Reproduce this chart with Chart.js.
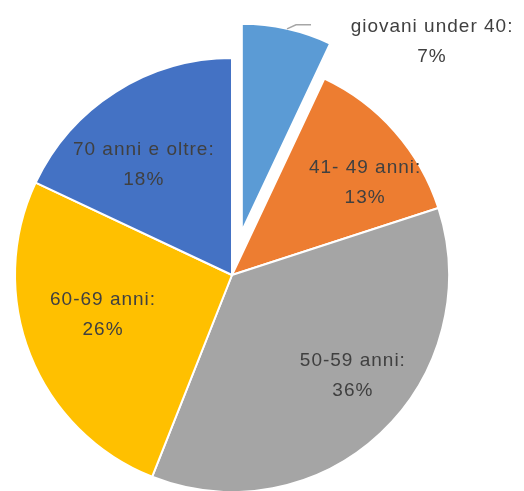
<!DOCTYPE html>
<html>
<head>
<meta charset="utf-8">
<script src="https://cdn.jsdelivr.net/npm/chart.js@4.4.1/dist/chart.umd.min.js"></script>
<style>
  html, body { margin: 0; padding: 0; background: #fff; }
  #wrap { width: 524px; height: 491px; }
</style>
</head>
<body>
<div id="wrap"><canvas id="pieChart" width="524" height="491"></canvas></div>
<script>
// values
const categories = ['giovani under 40', '41- 49 anni', '50-59 anni', '60-69 anni', '70 anni e oltre'];
const shares = [7, 13, 36, 26, 18];
const sliceColors = ['#5B9BD5', '#ED7D31', '#A5A5A5', '#FFC000', '#4472C4'];

// the slice pulled out of the pie
const exploded = { index: 0, distance: 45, scale: 0.955 };

// label spot per slice: fraction of radius, angle nudge in degrees
const labelSpots = [null, [0.746, 6.7], [0.726, -6.9], [0.622, 4.4], [0.65, -6.3]];

// moves the exploded slice outward (Chart.js offset also grows the radius)
const explodePlugin = {
  id: 'explode',
  afterDatasetsUpdate(chart) {
    const arc = chart.getDatasetMeta(0).data[exploded.index];
    if (!arc || arc._wrapped) return;
    const origDraw = arc.draw;
    arc.draw = function (ctx) {
      const mid = (this.startAngle + this.endAngle) / 2;
      const R = this.outerRadius;
      ctx.save();
      ctx.translate(Math.cos(mid) * exploded.distance, Math.sin(mid) * exploded.distance);
      this.outerRadius = R * exploded.scale;
      origDraw.call(this, ctx);
      this.outerRadius = R;
      ctx.restore();
    };
    arc._wrapped = true;
  }
};

const labelPlugin = {
  id: 'sliceLabels',
  afterDatasetsDraw(chart) {
    const ctx = chart.ctx;
    const arcs = chart.getDatasetMeta(0).data;
    ctx.save();
    ctx.font = '19px "Liberation Sans", Arial, sans-serif';
    ctx.fillStyle = '#404040';
    ctx.textAlign = 'center';
    ctx.textBaseline = 'middle';
    ctx.letterSpacing = '1px';
    arcs.forEach((arc, i) => {
      const mid = (arc.startAngle + arc.endAngle) / 2;
      let x, y;
      if (i === exploded.index) {
        const reach = exploded.distance + arc.outerRadius * exploded.scale;
        const ox = arc.x + Math.cos(mid) * reach;
        const oy = arc.y + Math.sin(mid) * reach;
        ctx.strokeStyle = '#A6A6A6';
        ctx.lineWidth = 1.5;
        ctx.beginPath();
        ctx.moveTo(ox, oy);
        ctx.lineTo(ox + 9, oy - 4);
        ctx.lineTo(ox + 24, oy - 4);
        ctx.stroke();
        x = ox + 145;
        y = oy - 2;
      } else {
        const k = labelSpots[i][0];
        const a = mid + labelSpots[i][1] * Math.PI / 180;
        x = arc.x + Math.cos(a) * arc.outerRadius * k;
        y = arc.y + Math.sin(a) * arc.outerRadius * k - 15;
      }
      ctx.fillText(categories[i] + ':', x, y);
      ctx.fillText(shares[i] + '%', x, y + 30);
    });
    ctx.restore();
  }
};

const ctx = document.getElementById('pieChart').getContext('2d');
new Chart(ctx, {
  type: 'pie',
  data: {
    labels: categories,
    datasets: [{
      data: shares,
      backgroundColor: sliceColors,
      borderColor: '#ffffff',
      borderWidth: 2
    }]
  },
  options: {
    responsive: false,
    animation: false,
    radius: 217,
    layout: { padding: { left: 0, right: 60, top: 59, bottom: 0 } },
    plugins: {
      legend: { display: false },
      tooltip: { enabled: false }
    },
    events: []
  },
  plugins: [explodePlugin, labelPlugin]
});
</script>
</body>
</html>
